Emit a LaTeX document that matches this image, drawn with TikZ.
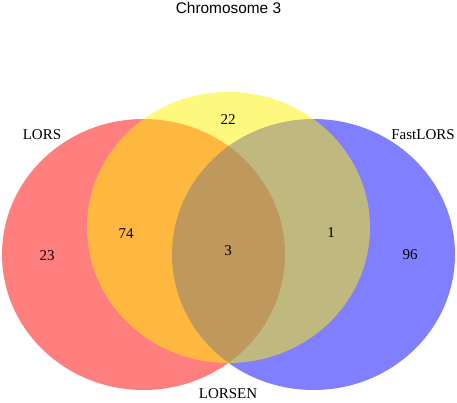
\documentclass[tikz,border=0pt]{standalone}
\usepackage{fontspec}
\setmainfont{Liberation Serif}
\setsansfont{Liberation Sans}
\usetikzlibrary{positioning}
\tikzset{set/.style={opacity=.5},
 num/.style={font=\fontsize{15}{16}\selectfont},
 lab/.style={font=\fontsize{15}{16}\selectfont},
 ttl/.style={font=\sffamily\fontsize{15.4}{16}\selectfont}}

\begin{document}
\begin{tikzpicture}[x=1pt,y=-1pt]
\useasboundingbox(0,0)rectangle(457,403);
\fill[red,set](143.5,254.5)ellipse[x radius=141.5,y radius=135.5];
\fill[blue,set](313.5,254.5)ellipse[x radius=141.5,y radius=135.5];
\fill[yellow,set](228.5,227.5)ellipse[x radius=141.5,y radius=135.5];
\node[ttl](title) at(228.5,8){Chromosome 3};
\node[lab](lors) at(42,135){LORS};\node[lab](fast) at(423,135){FastLORS};
\node[lab](lorsen) at(228,394){LORSEN};
\node[num](n23) at(47,256){23};\node[num](n74) at(126,234){74};
\node[num](n22) at(228,120){22};\node[num](n3) at(228,251){3};
\node[num](n1) at(331,233){1};\node[num](n96) at(410,255){96};
\end{tikzpicture}
\end{document}
